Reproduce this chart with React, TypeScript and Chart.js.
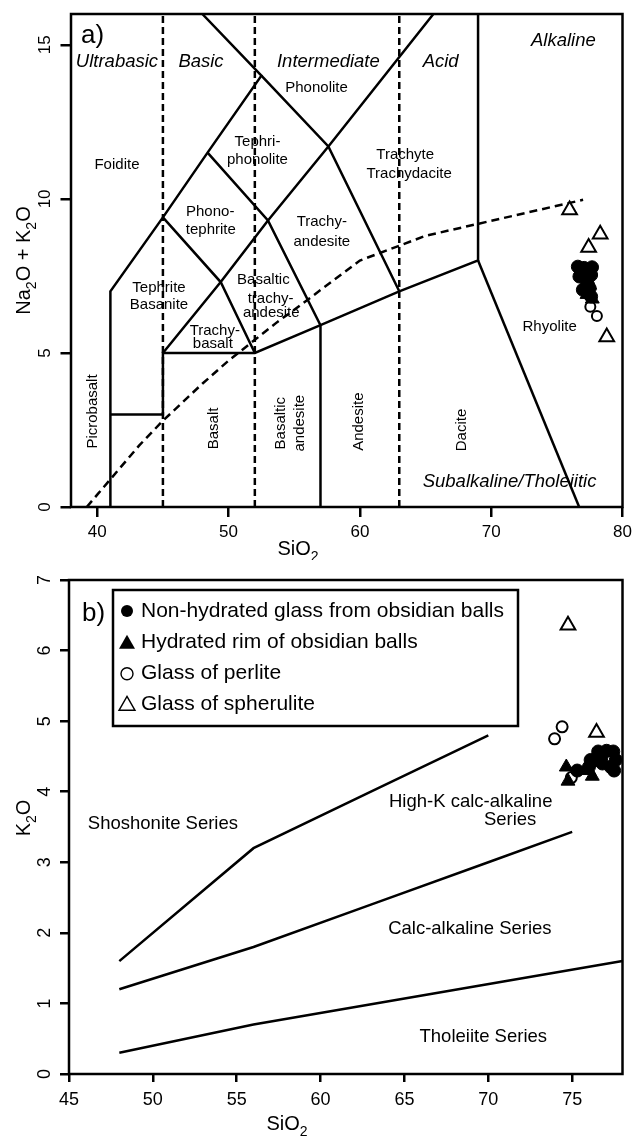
import React, { useEffect, useRef } from 'react';
import { Chart, registerables } from 'chart.js';

Chart.register(...registerables);

const FONT = '"Liberation Sans", Arial, Helvetica, sans-serif';

// ---------------- Panel a) TAS diagram ----------------
const tasXTicks = [40, 50, 60, 70, 80];
const tasYTicks = [0, 5, 10, 15];

const tasNonHydrated = [
  [76.6, 7.8], [77.08, 7.76], [77.68, 7.78], [76.72, 7.48], [77.23, 7.37], [77.61, 7.53],
  [76.98, 7.05], [77.36, 6.94], [77.61, 6.83], [77.38, 7.21], [76.85, 7.62], [77.5, 7.1],
];
const tasHydrated = [[77.1, 7.1], [77.5, 7.2], [77.3, 6.9], [77.7, 6.75]];
const tasPerlite = [[77.55, 6.5], [78.05, 6.2]];
const tasSpherulite = [[75.97, 9.64], [78.3, 8.85], [77.42, 8.42], [78.8, 5.52]];

const tasFieldLines = [
  [[41, 0], [41, 7], [45, 9.4], [48.4, 11.5], [52.5, 14], [48, 16]],
  [[41, 3], [45, 3], [45, 5], [52, 5], [57, 5.9], [63, 7], [69, 8], [69, 16]],
  [[69, 8], [76.7, 0]],
  [[57, 0], [57, 5.9]],
  [[45, 5], [49.4, 7.3], [53, 9.3], [57.6, 11.7], [65.6, 16]],
  [[45, 9.4], [49.4, 7.3], [52, 5]],
  [[48.4, 11.5], [53, 9.3], [57, 5.9]],
  [[52.5, 14], [57.6, 11.7], [63, 7]],
];
const tasSilicaDivisions = [45, 52, 63];
const tasAlkalineLine = [
  [39.2, 0], [40, 0.4], [43.2, 2], [45, 2.8], [48, 4], [50, 4.75], [53.7, 6], [55, 6.4],
  [60, 8], [65, 8.8], [77, 9.97],
];

const tasLabels = [
  ['Phonolite', 56.7, 13.6], ['Tephri-', 52.2, 11.86], ['phonolite', 52.2, 11.27],
  ['Foidite', 41.5, 11.1], ['Trachyte', 63.45, 11.43], ['Trachydacite', 63.75, 10.8],
  ['Phono-', 48.6, 9.59], ['tephrite', 48.65, 8.99], ['Trachy-', 57.1, 9.26], ['andesite', 57.1, 8.61],
  ['Tephrite', 44.7, 7.1], ['Basanite', 44.7, 6.56], ['Basaltic', 52.65, 7.37], ['trachy-', 53.2, 6.77],
  ['andesite', 53.25, 6.29], ['Trachy-', 48.95, 5.72], ['basalt', 48.8, 5.29], ['Rhyolite', 74.45, 5.85],
];
const tasVerticalLabels = [
  ['Picrobasalt', 39.7, 3.1], ['Basalt', 48.85, 2.55], ['Basaltic', 54.0, 2.72],
  ['andesite', 55.4, 2.72], ['Andesite', 59.95, 2.77], ['Dacite', 67.75, 2.5],
];
const tasItalicLabels = [
  ['Ultrabasic', 41.5, 14.46], ['Basic', 47.9, 14.46], ['Intermediate', 57.6, 14.46],
  ['Acid', 66.15, 14.46], ['Alkaline', 75.5, 15.14], ['Subalkaline/Tholeiitic', 71.4, 0.82],
];

// ---------------- Panel b) K2O vs SiO2 ----------------
const kXTicks = [45, 50, 55, 60, 65, 70, 75];
const kYTicks = [0, 1, 2, 3, 4, 5, 6, 7];

const kNonHydrated = [
  [75.3, 4.3], [76.0, 4.35], [76.1, 4.45], [76.4, 4.45], [76.55, 4.57], [76.75, 4.5],
  [77.05, 4.58], [77.45, 4.57], [77.3, 4.35], [76.8, 4.4], [77.6, 4.45], [77.5, 4.3],
];
const kHydrated = [[74.65, 4.35], [74.75, 4.15], [76.2, 4.22], [76.0, 4.3]];
const kPerlite = [[74.4, 4.92], [73.95, 4.75], [74.95, 4.2]];
const kSpherulite = [[74.75, 6.36], [76.45, 4.84]];

const kSeriesLines = [
  [[48, 1.6], [56, 3.2], [63, 4.0], [70, 4.8]],
  [[48, 1.2], [56, 1.8], [63, 2.4], [70, 3.0], [75, 3.43]],
  [[48, 0.3], [56, 0.7], [78, 1.6]],
];
const kLabels = [
  ['Shoshonite Series', 50.6, 3.55], ['High-K calc-alkaline', 68.95, 3.86], ['Series', 71.3, 3.6],
  ['Calc-alkaline Series', 68.9, 2.05], ['Tholeiite Series', 69.7, 0.53],
];
const legendNames = [
  'Non-hydrated glass from obsidian balls',
  'Hydrated rim of obsidian balls',
  'Glass of perlite',
  'Glass of spherulite',
];

// ---------------- helpers ----------------
const pts = (a: number[][]) => a.map(([x, y]) => ({ x, y }));

const lineDs = (a: number[][], dash: number[] = []) => ({
  data: pts(a), showLine: true, pointRadius: 0, pointHoverRadius: 0, borderColor: '#000',
  backgroundColor: '#000', borderWidth: 2.5, borderDash: dash, fill: false, order: 10, tension: 0,
});

const markerDs = (a: number[][], style: string, r: number, fill: string, bw: number, order: number) => ({
  data: pts(a), showLine: false, pointStyle: style, pointRadius: r, pointHoverRadius: r,
  pointBackgroundColor: fill, pointBorderColor: '#000', pointBorderWidth: bw,
  backgroundColor: fill, borderColor: '#000', order,
});

function drawRich(ctx: CanvasRenderingContext2D, parts: [string, boolean][], x: number, y: number, size: number, rotate: boolean) {
  ctx.save();
  ctx.translate(x, y);
  if (rotate) ctx.rotate(-Math.PI / 2);
  const main = `${size}px ${FONT}`;
  const sub = `${Math.round(size * 0.72)}px ${FONT}`;
  let total = 0;
  for (const [t, s] of parts) { ctx.font = s ? sub : main; total += ctx.measureText(t).width; }
  let cx = -total / 2;
  ctx.fillStyle = '#000';
  ctx.textAlign = 'left';
  ctx.textBaseline = 'alphabetic';
  for (const [t, s] of parts) {
    ctx.font = s ? sub : main;
    ctx.fillText(t, cx, s ? size * 0.3 : 0);
    cx += ctx.measureText(t).width;
  }
  ctx.restore();
}

function drawLabel(ctx: CanvasRenderingContext2D, chart: any, t: string, x: number, y: number, font: string, rot = false) {
  const px = chart.scales.x.getPixelForValue(x);
  const py = chart.scales.y.getPixelForValue(y);
  ctx.save();
  ctx.translate(px, py);
  if (rot) ctx.rotate(-Math.PI / 2);
  ctx.font = font;
  ctx.fillStyle = '#000';
  ctx.textAlign = 'center';
  ctx.textBaseline = 'middle';
  ctx.fillText(t, 0, 0);
  ctx.restore();
}

function axes(xMin: number, xMax: number, xTicks: number[], yMin: number, yMax: number, yTicks: number[],
  yWidth: number, xHeight: number, fs: number, xTl: number, yTl: number, xPad: number, yPad: number) {
  const grid = (tl: number) => ({
    display: true, drawOnChartArea: false, drawTicks: true, tickLength: tl, tickWidth: 2.5,
    tickColor: '#000', color: '#000', lineWidth: 2.5,
  });
  return {
    x: {
      type: 'linear', min: xMin, max: xMax,
      afterBuildTicks: (s: any) => { s.ticks = xTicks.map((v) => ({ value: v })); },
      afterFit: (s: any) => { s.height = xHeight; s.paddingLeft = 0; s.paddingRight = 0; },
      grid: grid(xTl), border: { display: false },
      ticks: { color: '#000', font: { family: FONT, size: fs }, padding: xPad, maxRotation: 0, autoSkip: false },
    },
    y: {
      type: 'linear', min: yMin, max: yMax,
      afterBuildTicks: (s: any) => { s.ticks = yTicks.map((v) => ({ value: v })); },
      afterFit: (s: any) => { s.width = yWidth; s.paddingTop = 0; s.paddingBottom = 0; },
      grid: grid(yTl), border: { display: false },
      ticks: { color: '#000', font: { family: FONT, size: fs }, padding: yPad, minRotation: 90, maxRotation: 90, crossAlign: 'center', autoSkip: false },
    },
  };
}

const framePlugin = {
  id: 'frame',
  afterDraw(chart: any) {
    const { ctx, chartArea: a } = chart;
    ctx.save();
    ctx.strokeStyle = '#000';
    ctx.lineWidth = 2.5;
    ctx.setLineDash([]);
    ctx.strokeRect(a.left, a.top, a.right - a.left, a.bottom - a.top);
    ctx.restore();
  },
};

const decorA = {
  id: 'decorA',
  afterDatasetsDraw(chart: any) {
    const ctx = chart.ctx as CanvasRenderingContext2D;
    for (const [t, x, y] of tasLabels) drawLabel(ctx, chart, t as string, x as number, y as number, `15px ${FONT}`);
    for (const [t, x, y] of tasVerticalLabels) drawLabel(ctx, chart, t as string, x as number, y as number, `15px ${FONT}`, true);
    for (const [t, x, y] of tasItalicLabels) drawLabel(ctx, chart, t as string, x as number, y as number, `italic 18.5px ${FONT}`);
    const a = chart.chartArea;
    ctx.save();
    ctx.font = `26px ${FONT}`;
    ctx.fillStyle = '#000';
    ctx.textAlign = 'left';
    ctx.textBaseline = 'alphabetic';
    ctx.fillText('a)', a.left + 10, a.top + 29);
    ctx.restore();
    drawRich(ctx, [['SiO', false], ['2', true]], 298, 555, 20, false);
    drawRich(ctx, [['Na', false], ['2', true], ['O + K', false], ['2', true], ['O', false]], 30, (a.top + a.bottom) / 2, 20, true);
  },
};

const decorB = {
  id: 'decorB',
  afterDatasetsDraw(chart: any) {
    const ctx = chart.ctx as CanvasRenderingContext2D;
    for (const [t, x, y] of kLabels) drawLabel(ctx, chart, t as string, x as number, y as number, `18.5px ${FONT}`);
    const a = chart.chartArea;
    ctx.save();
    ctx.font = `26px ${FONT}`;
    ctx.fillStyle = '#000';
    ctx.textAlign = 'left';
    ctx.textBaseline = 'alphabetic';
    ctx.fillText('b)', a.left + 13, a.top + 41);
    // legend
    const lx = a.left + 44;
    const ly = a.top + 10;
    ctx.lineWidth = 2.5;
    ctx.strokeStyle = '#000';
    ctx.strokeRect(lx, ly, 405, 136);
    const rowY = [20, 51.7, 82.7, 113.3];
    ctx.font = `21px ${FONT}`;
    ctx.textBaseline = 'middle';
    legendNames.forEach((name, i) => {
      const cy = ly + rowY[i];
      const mx = lx + 14;
      ctx.fillText(name, lx + 28, cy + 1);
      ctx.beginPath();
      if (i === 0 || i === 2) {
        ctx.arc(mx, cy + 1, 6, 0, Math.PI * 2);
      } else {
        ctx.moveTo(mx, cy - 7);
        ctx.lineTo(mx + 8, cy + 7);
        ctx.lineTo(mx - 8, cy + 7);
        ctx.closePath();
      }
      if (i < 2) { ctx.fill(); } else { ctx.lineWidth = 1.4; ctx.stroke(); }
    });
    ctx.restore();
    drawRich(ctx, [['SiO', false], ['2', true]], 287, 570, 20, false);
    drawRich(ctx, [['K', false], ['2', true], ['O', false]], 30, 258, 20, true);
  },
};

function buildA(): any {
  return {
    type: 'scatter',
    data: {
      datasets: [
        markerDs(tasNonHydrated, 'circle', 6.5, '#000', 1, 0),
        markerDs(tasHydrated, 'triangle', 8, '#000', 1, 1),
        markerDs(tasPerlite, 'circle', 5, '#fff', 2, 2),
        markerDs(tasSpherulite, 'triangle', 8.5, '#fff', 2, 3),
        ...tasFieldLines.map((l) => lineDs(l)),
        ...tasSilicaDivisions.map((v) => lineDs([[v, 0], [v, 16]], [7, 4])),
        lineDs(tasAlkalineLine, [8, 5]),
      ],
    },
    options: {
      responsive: false, animation: false, devicePixelRatio: 1, events: [],
      layout: { padding: { top: 14, right: 6, left: 0, bottom: 0 } },
      plugins: { legend: { display: false }, tooltip: { enabled: false } },
      scales: axes(38, 80, tasXTicks, 0, 16, tasYTicks, 71, 53, 17, 10, 10.5, 5, 6),
    },
    plugins: [decorA, framePlugin],
  };
}

function buildB(): any {
  return {
    type: 'scatter',
    data: {
      datasets: [
        markerDs(kNonHydrated, 'circle', 6.5, '#000', 1, 0),
        markerDs(kHydrated, 'triangle', 8, '#000', 1, 1),
        markerDs(kPerlite, 'circle', 5.5, '#fff', 2, 2),
        markerDs(kSpherulite, 'triangle', 8.5, '#fff', 2, 3),
        ...kSeriesLines.map((l) => lineDs(l)),
      ],
    },
    options: {
      responsive: false, animation: false, devicePixelRatio: 1, events: [],
      layout: { padding: { top: 20, right: 9, left: 0, bottom: 0 } },
      plugins: { legend: { display: false }, tooltip: { enabled: false } },
      scales: axes(45, 78, kXTicks, 0, 7, kYTicks, 69, 64, 18, 8, 9, 7, 10),
    },
    plugins: [decorB, framePlugin],
  };
}

function ChartCanvas({ build, top, height }: { build: () => any; top: number; height: number }) {
  const ref = useRef<HTMLCanvasElement>(null);
  useEffect(() => {
    const chart = new Chart(ref.current as HTMLCanvasElement, build());
    return () => chart.destroy();
  }, [build]);
  return (
    <canvas
      ref={ref}
      width={633}
      height={height}
      style={{ position: 'absolute', left: 0, top, width: 633, height, display: 'block' }}
    />
  );
}

export default function App() {
  return (
    <div style={{ position: 'absolute', left: 0, top: 0, width: 633, height: 1138, background: '#fff', overflow: 'hidden' }}>
      <ChartCanvas build={buildA} top={0} height={560} />
      <ChartCanvas build={buildB} top={560} height={578} />
    </div>
  );
}
